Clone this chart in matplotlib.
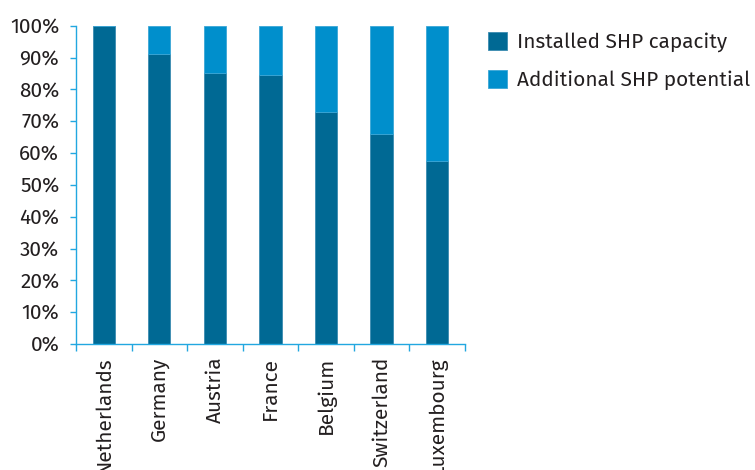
import numpy as np
import matplotlib.pyplot as plt
from matplotlib.ticker import FuncFormatter, FixedLocator

countries = ['Netherlands', 'Germany', 'Austria', 'France', 'Belgium', 'Switzerland', 'Luxembourg']
installed = [100.0, 91.3, 85.1, 84.4, 73.0, 66.1, 57.6]   # % of total SHP
additional = [100 - v for v in installed]

dark = '#006994'
light = '#008fcc'
axis_col = '#22a7e0'
txt = '#231f20'

plt.rcParams['font.family'] = ['Fira Sans', 'Open Sans', 'DejaVu Sans']

fig = plt.figure(figsize=(7.55, 4.70), dpi=100)
ax = fig.add_axes([0.1007, 0.268, 0.515, 0.677])

x = np.arange(len(countries))
ax.bar(x, installed, width=0.4, color=dark, edgecolor='#3a8bb0', linewidth=0.6,
       label='Installed SHP capacity')
ax.bar(x, additional, width=0.4, bottom=installed, color=light, edgecolor='#3aa6d6',
       linewidth=0.6, label='Additional SHP potential')

ax.set_xlim(-0.5, len(countries) - 0.5)
ax.set_ylim(0, 100)
ax.set_yticks(np.arange(0, 101, 10))
ax.yaxis.set_major_formatter(FuncFormatter(lambda v, p: f'{v:.0f}%'))
ax.set_xticks(x)
ax.set_xticklabels(countries, rotation=90, fontsize=15, color=txt)
ax.xaxis.set_minor_locator(FixedLocator(np.arange(-0.5, len(countries), 1)))
ax.tick_params(axis='x', which='major', length=0, pad=9)
ax.tick_params(axis='x', which='minor', length=5, color=axis_col, width=1)
ax.tick_params(axis='y', length=4, color=axis_col, width=1, labelsize=15, labelcolor=txt, pad=8)

for s in ['top', 'right']:
    ax.spines[s].set_visible(False)
for s in ['left', 'bottom']:
    ax.spines[s].set_color(axis_col)
    ax.spines[s].set_linewidth(1)

leg = fig.legend(loc='upper left', bbox_to_anchor=(0.621, 0.972), frameon=False,
                 fontsize=15, handlelength=0.95, handleheight=0.95, handletextpad=0.45,
                 labelspacing=0.85)
for t in leg.get_texts():
    t.set_color(txt)

plt.savefig('out.png', dpi=100)
